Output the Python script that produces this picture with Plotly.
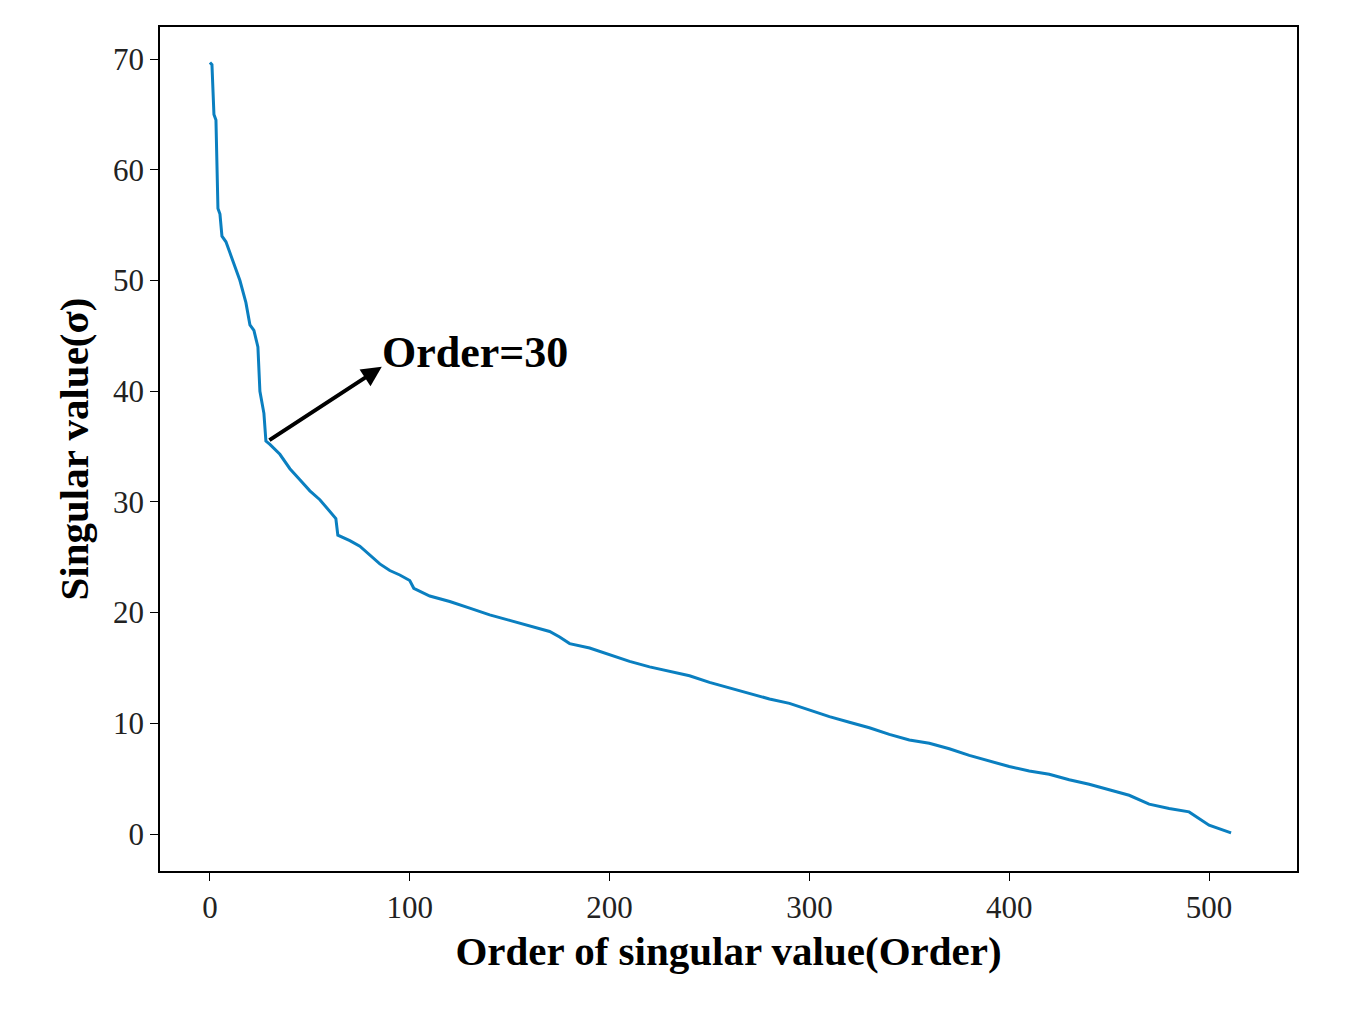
import plotly.graph_objects as go

order = [0,1,2,3,4,5,6,8,10,12,15,18,20,22,24,25,27,28,30,35,40,45,50,55,60,63,64,70,75,80,85,90,95,100,102,110,120,130,140,150,160,170,175,180,190,200,210,220,230,240,250,260,270,280,290,300,310,320,330,340,350,360,370,380,390,400,410,420,430,440,450,460,470,480,490,500,511]
sigma = [69.7,69.5,65,64.5,56.5,56,54,53.5,52.5,51.5,50,48,46,45.5,44,40,38,35.5,35.2,34.3,33,32,31,30.2,29.2,28.5,27,26.5,26,25.2,24.4,23.8,23.4,22.9,22.2,21.5,21,20.4,19.8,19.3,18.8,18.3,17.8,17.2,16.8,16.2,15.6,15.1,14.7,14.3,13.7,13.2,12.7,12.2,11.8,11.2,10.6,10.1,9.6,9.0,8.5,8.2,7.7,7.1,6.6,6.1,5.7,5.4,4.9,4.5,4.0,3.5,2.7,2.3,2.0,0.8,0.1]

fig = go.Figure(go.Scatter(x=order, y=sigma, mode="lines", line=dict(color="#0a7fc0", width=3)))
fig.add_annotation(x=86, y=42.2, ax=29, ay=35.5, xref="x", yref="y", axref="x", ayref="y",
                   showarrow=True, arrowhead=2, arrowsize=1, arrowwidth=4, arrowcolor="black", text="")
fig.add_annotation(x=85, y=43.5, xref="x", yref="y", text="<b>Order=30</b>", showarrow=False,
                   xanchor="left", font=dict(size=44, color="black", family="Liberation Serif"))
ax = dict(showline=True, linecolor="black", linewidth=1.5, mirror=True, ticks="outside", ticklen=8,
          tickcolor="black", showgrid=False, zeroline=False,
          tickfont=dict(size=31, family="Liberation Serif", color="#222"))
fig.update_layout(
    width=1345, height=1018, plot_bgcolor="white", paper_bgcolor="white", showlegend=False,
    margin=dict(l=152, r=56, t=19, b=155),
    xaxis=dict(ax, range=[-25, 544], tickvals=[0,100,200,300,400,500],
               title=dict(text="<b>Order of singular value(Order)</b>", font=dict(size=41, family="Liberation Serif", color="black"), standoff=12)),
    yaxis=dict(ax, range=[-3.34, 72.9], tickvals=[0,10,20,30,40,50,60,70],
               title=dict(text="<b>Singular value(σ)</b>", font=dict(size=41, family="Liberation Serif", color="black"), standoff=12)),
)
fig.write_html("out.html")
